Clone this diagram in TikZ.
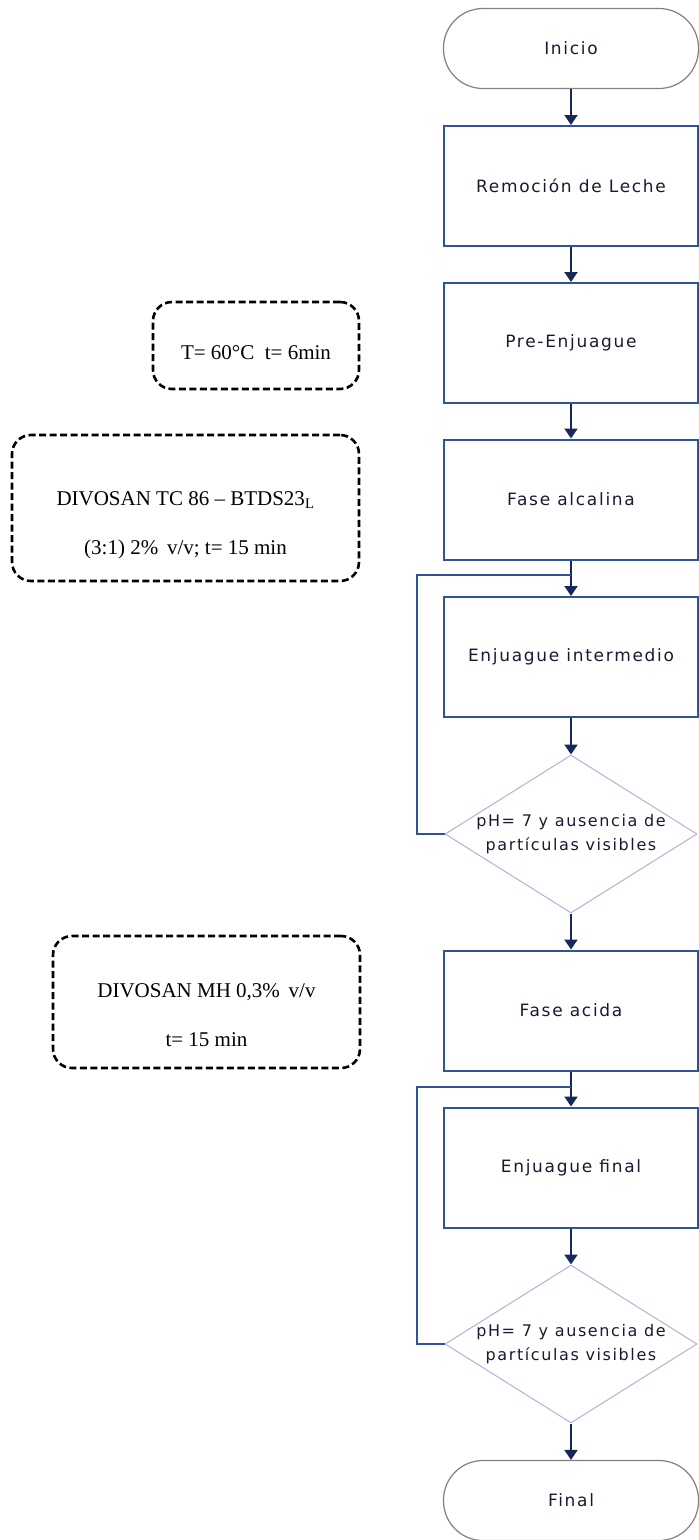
\documentclass[tikz,border=0pt]{standalone}
\usepackage{fontspec}
\usetikzlibrary{shapes.geometric,arrows.meta}

\newfontfamily\flowfont[LetterSpace=10]{DejaVu Sans}
\newfontfamily\notefont{Liberation Serif}

\definecolor{boxblue}{RGB}{47,84,150}
\definecolor{arrownavy}{RGB}{24,40,90}
\definecolor{termgray}{RGB}{128,128,128}
\definecolor{declav}{RGB}{185,172,215}
\definecolor{textnavy}{RGB}{22,28,48}

\tikzset{
  terminal/.style={draw=termgray,line width=1.2pt,rounded corners=39.5pt,
    minimum width=255pt,minimum height=80pt,text=textnavy,
    font=\flowfont\fontsize{17}{20}\selectfont},
  process/.style={draw=boxblue,line width=2pt,minimum width=254pt,
    minimum height=120pt,text=textnavy,inner sep=2pt,
    font=\flowfont\fontsize{17}{20}\selectfont},
  decision/.style={diamond,draw=declav,line width=1pt,inner sep=0pt,
    minimum width=252pt,minimum height=158pt},
  dectext/.style={text=textnavy,align=center,
    font=\flowfont\fontsize{16}{24}\selectfont},
  note/.style={draw,dash pattern=on 7pt off 3.5pt,line width=2.6pt,
    rounded corners=19pt},
  notetext/.style={align=center,font=\notefont\fontsize{21}{49}\selectfont},
  flow/.style={draw=arrownavy,line width=2pt,
    -{Triangle[width=13pt,length=10pt]}},
  backloop/.style={draw=boxblue,line width=2pt}
}

\begin{document}
\begin{tikzpicture}[x=1pt,y=-1pt]
\useasboundingbox (0,0) rectangle (699,1540);

% main column
\node[terminal] (inicio) at (571,48.5) {Inicio};
\node[process] (remocion) at (571,186) {Remoción de Leche};
\node[process] (pre) at (571,343) {Pre-Enjuague};
\node[process] (alcalina) at (571,499.5) {Fase alcalina};
\node[process] (intermedio) at (571,657) {Enjuague intermedio};
\node[decision,label={[dectext]center:{pH= 7 y ausencia de\\partículas visibles}}] (check1) at (571,834) {};
\node[process] (acida) at (571,1010.5) {Fase acida};
\node[process] (enjfinal) at (571,1167.5) {Enjuague final};
\node[decision,label={[dectext]center:{pH= 7 y ausencia de\\partículas visibles}}] (check2) at (571,1344) {};
\node[terminal] (final) at (571,1500.5) {Final};

\draw[flow] (inicio) -- (remocion);
\draw[flow] (remocion) -- (pre);
\draw[flow] (pre) -- (alcalina);
\draw[flow] (alcalina) -- (intermedio);
\draw[flow] (intermedio) -- (check1);
\draw[flow] (check1) -- (acida);
\draw[flow] (acida) -- (enjfinal);
\draw[flow] (enjfinal) -- (check2);
\draw[flow] (check2) -- (final);

% return loops
\coordinate (join1) at (571,575);
\coordinate (join2) at (571,1087);
\draw[backloop] (check1.west) -- ++(-28,0) |- (join1);
\draw[backloop] (check2.west) -- ++(-28,0) |- (join2);

% conditions
\node[note,minimum width=206pt,minimum height=87pt] (cond1) at (256,345.5) {};
\node[notetext] (cond1txt) at ([yshift=-7.5pt]cond1.center) {T= 60°C\ \ t= 6min};
\node[note,minimum width=347pt,minimum height=146pt] (cond2) at (185.5,508) {};
\node[notetext] (cond2txt) at ([yshift=-17pt]cond2.center) {DIVOSAN TC 86 – BTDS23\textsubscript{L}\\(3:1) 2\%\,\ v/v; t= 15 min};
\node[note,minimum width=307pt,minimum height=132pt] (cond3) at (206.5,1002) {};
\node[notetext] (cond3txt) at ([yshift=-13pt]cond3.center) {DIVOSAN MH 0,3\%\,\ v/v\\t= 15 min};
\end{tikzpicture}
\end{document}
